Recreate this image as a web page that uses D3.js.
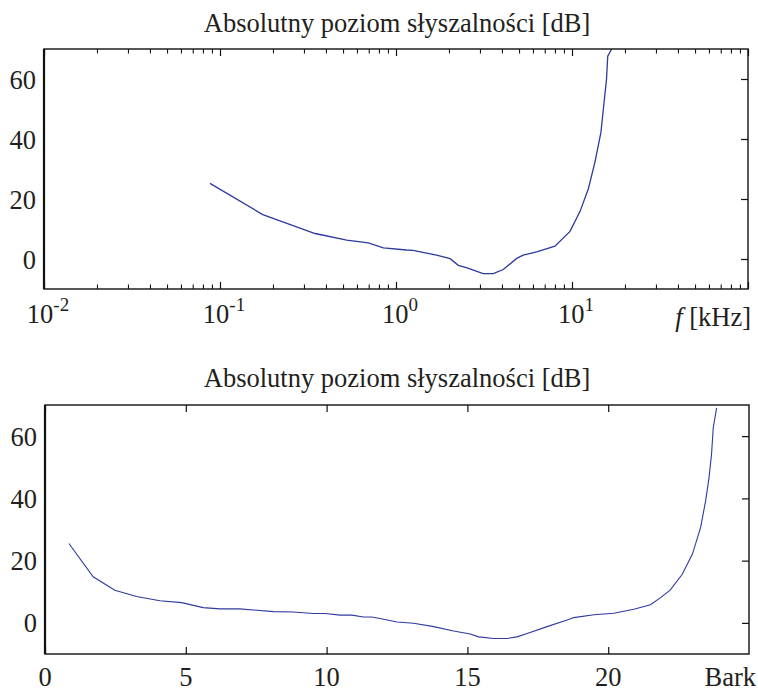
<!DOCTYPE html>
<html>
<head>
<meta charset="utf-8">
<script src="https://d3js.org/d3.v7.min.js"></script>
<style>
  body { margin: 0; background: #fff; }
  svg text { font-family: "Liberation Serif", "DejaVu Serif", serif; fill: #231f20; }
</style>
</head>
<body>
<div id="chart"></div>
<script>
// top panel: threshold vs frequency [kHz]
var freqKHz = [0.0877, 0.175, 0.258, 0.347, 0.525, 0.696, 0.848, 1.15, 1.25, 1.70, 2.03, 2.26, 2.51,
               3.13, 3.57, 4.07, 4.85, 5.28, 6.30, 8.0, 9.74, 11.1, 12.4, 13.5, 14.6, 15.2, 15.7, 15.96, 16.8];
var freqDb  = [25.2, 14.8, 11.2, 8.5, 6.3, 5.4, 3.7, 3.0, 2.9, 1.3, 0.1, -2.1, -2.9,
               -4.9, -4.9, -3.5, 0.2, 1.3, 2.4, 4.3, 9.2, 15.8, 23.5, 32.3, 42.2, 52.1, 59.8, 67.6, 70];

// bottom panel: threshold vs critical band rate [Bark]
var bark   = [0.85, 1.71, 2.48, 3.25, 4.08, 4.85, 5.62, 6.21, 6.92, 8.11, 8.82, 9.53, 9.95, 10.48, 10.9,
              11.31, 11.6, 11.9, 12.5, 13.09, 13.8, 14.51, 15.1, 15.4, 15.93, 16.41, 16.76, 17.12, 17.83,
              18.54, 18.78, 19.49, 20.2, 20.91, 21.5, 21.86, 22.2, 22.63, 22.99, 23.28, 23.46, 23.58,
              23.67, 23.73, 23.85];
var barkDb = [25.5, 14.8, 10.5, 8.5, 7.1, 6.5, 4.9, 4.5, 4.5, 3.6, 3.5, 3.0, 3.0, 2.5, 2.5,
              1.9, 1.9, 1.4, 0.3, -0.1, -1.2, -2.6, -3.6, -4.5, -5.0, -5.0, -4.5, -3.4, -1.2,
              0.9, 1.7, 2.6, 3.1, 4.4, 5.8, 8.1, 10.5, 15.6, 22.1, 30.6, 39.2, 46.6,
              54.2, 62.7, 69.1];

var yTicks = [0, 20, 40, 60];
var logMajor = [-2, -1, 0, 1];       // exponents labelled
var barkTicks = [0, 5, 10, 15, 20];

var title = "Absolutny poziom słyszalności [dB]";
var lineColor = "#2e3a9e";
var fs = 26.5;

var svg = d3.select("#chart").append("svg")
    .attr("width", 758).attr("height", 693);

function drawFrame(g, x, y) {
    var r = x.range(), t = y.range();
    g.append("rect")
        .attr("x", r[0]).attr("y", t[1])
        .attr("width", r[1] - r[0]).attr("height", t[0] - t[1])
        .attr("fill", "none").attr("stroke", "#111").attr("stroke-width", 1.4);
    g.append("line")
        .attr("x1", r[0]).attr("x2", r[0]).attr("y1", t[1]).attr("y2", t[0])
        .attr("stroke", "#111").attr("stroke-width", 2.2);
}

function drawY(g, x, y) {
    var r = x.range();
    // ticks on the right edge, pointing inward
    g.append("g").attr("transform", "translate(" + r[1] + ",0)")
        .call(d3.axisRight(y).tickValues(yTicks).tickSize(-7).tickFormat(""))
        .call(s => s.select(".domain").remove())
        .call(s => s.selectAll("line").attr("stroke", "#111").attr("stroke-width", 1.2));
    g.selectAll(".ylab").data(yTicks).join("text")
        .attr("class", "ylab")
        .attr("x", r[0] - 8).attr("y", d => y(d))
        .attr("dy", "0.36em")
        .attr("text-anchor", "end")
        .attr("font-size", fs)
        .text(d => d);
}

// ---------- top panel ----------
var x1 = d3.scaleLog().domain([0.01, 100]).range([44, 748]);
var y1 = d3.scaleLinear().domain([-10, 70]).range([289, 49]);
var g1 = svg.append("g");

var minor = [];
[-2, -1, 0, 1].forEach(e => { for (var k = 2; k <= 9; k++) minor.push(k * Math.pow(10, e)); });
var major = [0.01, 0.1, 1, 10, 100];

[[d3.axisBottom, 289], [d3.axisTop, 49]].forEach(function (a) {
    g1.append("g").attr("transform", "translate(0," + a[1] + ")")
        .call(a[0](x1).tickValues(major).tickSize(-7).tickFormat(""))
        .call(s => s.select(".domain").remove())
        .call(s => s.selectAll("line").attr("stroke", "#111").attr("stroke-width", 1.2));
    g1.append("g").attr("transform", "translate(0," + a[1] + ")")
        .call(a[0](x1).tickValues(minor).tickSize(-4.5).tickFormat(""))
        .call(s => s.select(".domain").remove())
        .call(s => s.selectAll("line").attr("stroke", "#111").attr("stroke-width", 1.1));
});

drawY(g1, x1, y1);

var defs = svg.append("defs");
defs.append("clipPath").attr("id", "clip1").append("rect")
    .attr("x", 44).attr("y", 49).attr("width", 704).attr("height", 240);
defs.append("clipPath").attr("id", "clip2").append("rect")
    .attr("x", 45).attr("y", 405).attr("width", 704).attr("height", 249);

var topData = freqKHz.map((f, i) => [f, freqDb[i]]);
g1.append("path")
    .datum(topData)
    .attr("clip-path", "url(#clip1)")
    .attr("fill", "none")
    .attr("stroke", lineColor)
    .attr("stroke-width", 1.3)
    .attr("d", d3.line().x(d => x1(d[0])).y(d => y1(d[1])));

drawFrame(g1, x1, y1);

var xl = g1.selectAll(".xlab").data(logMajor).join("text")
    .attr("class", "xlab")
    .attr("x", d => x1(Math.pow(10, d)) + 4)
    .attr("y", 323)
    .attr("text-anchor", "middle")
    .attr("font-size", fs);
xl.append("tspan").text("10");
xl.append("tspan").attr("dy", -12).attr("font-size", 19).text(d => d < 0 ? "-" + (-d) : d);

var unit = g1.append("text")
    .attr("x", 751).attr("y", 326)
    .attr("text-anchor", "end")
    .attr("font-size", fs);
unit.append("tspan").attr("font-style", "italic").text("f");
unit.append("tspan").text(" [kHz]");

g1.append("text")
    .attr("x", 397).attr("y", 32)
    .attr("text-anchor", "middle")
    .attr("font-size", fs)
    .text(title);

// ---------- bottom panel ----------
var x2 = d3.scaleLinear().domain([0, 25]).range([45, 749]);
var y2 = d3.scaleLinear().domain([-10, 70]).range([654, 405]);
var g2 = svg.append("g");

[[d3.axisBottom, 654], [d3.axisTop, 405]].forEach(function (a) {
    g2.append("g").attr("transform", "translate(0," + a[1] + ")")
        .call(a[0](x2).tickValues(barkTicks).tickSize(-7).tickFormat(""))
        .call(s => s.select(".domain").remove())
        .call(s => s.selectAll("line").attr("stroke", "#111").attr("stroke-width", 1.2));
});

drawY(g2, x2, y2);

var botData = bark.map((z, i) => [z, barkDb[i]]);
g2.append("path")
    .datum(botData)
    .attr("clip-path", "url(#clip2)")
    .attr("fill", "none")
    .attr("stroke", lineColor)
    .attr("stroke-width", 1.1)
    .attr("d", d3.line().x(d => x2(d[0])).y(d => y2(d[1])));

drawFrame(g2, x2, y2);

g2.selectAll(".blab").data(barkTicks).join("text")
    .attr("class", "blab")
    .attr("x", d => x2(d))
    .attr("y", 686)
    .attr("text-anchor", "middle")
    .attr("font-size", fs)
    .text(d => d);

g2.append("text")
    .attr("x", 756).attr("y", 686)
    .attr("text-anchor", "end")
    .attr("font-size", fs)
    .text("Bark");

g2.append("text")
    .attr("x", 397).attr("y", 387)
    .attr("text-anchor", "middle")
    .attr("font-size", fs)
    .text(title);
</script>
</body>
</html>
